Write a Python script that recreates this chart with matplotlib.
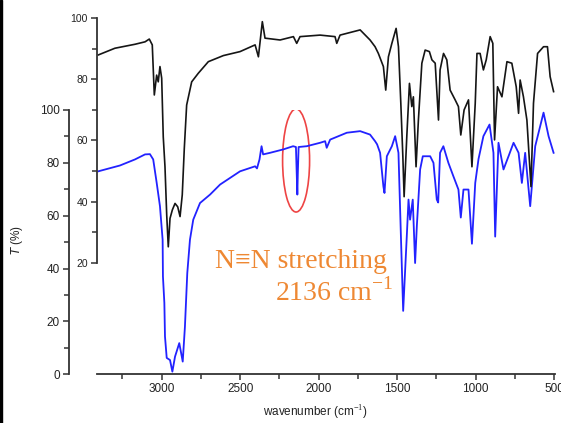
import numpy as np
import matplotlib
matplotlib.use('Agg')
import matplotlib.pyplot as plt
from matplotlib.patches import Ellipse, Rectangle
from matplotlib.ticker import MultipleLocator

matplotlib.rcParams.update({'font.family': 'Liberation Sans', 'font.size': 8,
                            'mathtext.fontset': 'custom',
                            'mathtext.rm': 'Liberation Serif'})

# blue spectrum (main axis): wavenumber (cm-1), T (%)
blue_wn = [3404, 3266, 3170, 3106, 3075, 3054, 3032, 3011, 2994, 2992, 2983, 2979,
           2968, 2947, 2932, 2915, 2888, 2866, 2852, 2837, 2820, 2799, 2756, 2692,
           2628, 2501, 2405, 2393, 2377, 2364, 2354, 2310, 2225, 2163, 2145, 2138,
           2136, 2133, 2128, 2076, 1991, 1959, 1949, 1927, 1821, 1736, 1673, 1641,
           1628, 1609, 1588, 1581, 1566, 1534, 1513, 1492, 1477, 1462, 1439, 1428,
           1418, 1401, 1386, 1375, 1354, 1337, 1290, 1269, 1248, 1239, 1227, 1206,
           1174, 1142, 1110, 1095, 1078, 1046, 1024, 1003, 982, 951, 912, 887, 876,
           855, 823, 791, 759, 727, 706, 685, 653, 621, 568, 536, 504]
blue_t = [76.8, 79.0, 81.3, 83.2, 83.3, 81.3, 72.5, 63.6, 50.9, 37.0, 27.0, 14.3,
          6.2, 5.4, 1.0, 6.7, 11.8, 4.8, 18.0, 38.3, 50.9, 58.5, 64.8, 68.0,
          71.8, 76.8, 78.7, 77.9, 81.3, 86.3, 83.2, 83.8, 85.1, 86.3, 86.0, 72.0,
          68.0, 76.0, 86.0, 86.3, 87.6, 88.2, 85.7, 88.8, 91.4, 92.0, 90.7, 88.2,
          87.0, 83.8, 71.1, 68.6, 82.5, 86.3, 90.1, 83.8, 53.5, 24.0, 52.2, 66.1,
          58.5, 66.1, 42.1, 56.0, 77.5, 82.5, 82.5, 80.0, 66.1, 65.0, 83.8, 86.3,
          80.0, 74.9, 69.9, 59.3, 69.9, 69.9, 49.4, 72.4, 81.5, 90.1, 94.5, 83.8, 52.1,
          87.6, 77.5, 82.5, 87.6, 83.8, 72.4, 83.8, 63.6, 86.3, 99.0, 90.1, 83.8]

# black spectrum (upper axis)
black_wn = [3404, 3298, 3170, 3106, 3079, 3060, 3047, 3032, 3022, 3011, 3000, 2990,
            2979, 2968, 2958, 2947, 2932, 2915, 2898, 2883, 2869, 2856, 2841, 2809,
            2767, 2703, 2607, 2501, 2405, 2384, 2359, 2342, 2246, 2161, 2140, 2119,
            1991, 1896, 1885, 1864, 1736, 1673, 1641, 1620, 1588, 1573, 1556, 1534,
            1507, 1492, 1477, 1464, 1456, 1439, 1422, 1407, 1397, 1380, 1365, 1343,
            1322, 1295, 1279, 1258, 1237, 1227, 1205, 1184, 1163, 1131, 1110, 1095,
            1074, 1046, 1024, 1003, 992, 972, 951, 933, 908, 891, 880, 861, 833,
            801, 770, 742, 727, 717, 696, 674, 648, 632, 606, 568, 543, 526, 504]
black_t = [88.0, 90.2, 91.5, 92.3, 93.2, 91.3, 74.9, 81.4, 79.2, 84.2, 80.4, 61.2,
           51.4, 35.6, 25.2, 34.5, 37.3, 39.4, 38.3, 35.1, 42.2, 57.4, 71.6, 79.2,
           82.0, 85.8, 87.8, 89.1, 91.3, 87.4, 98.9, 93.5, 92.9, 94.0, 91.8, 94.0,
           94.5, 94.0, 91.8, 94.5, 96.2, 92.9, 90.7, 88.5, 84.2, 76.5, 87.4, 91.8,
           96.7, 90.7, 72.2, 54.7, 41.6, 61.2, 78.7, 71.1, 74.3, 51.4, 66.7, 85.3,
           89.6, 89.1, 86.4, 85.3, 66.7, 83.1, 88.5, 86.4, 76.5, 73.3, 71.1, 61.8,
           70.0, 73.3, 51.4, 72.2, 88.5, 88.5, 83.1, 86.4, 94.0, 91.8, 60.2, 77.6, 74.3,
           85.8, 85.3, 77.6, 68.9, 79.8, 74.3, 66.7, 44.9, 72.2, 88.5, 90.7, 90.7, 80.9, 76.0]

W, H = 561, 423
fig = plt.figure(figsize=(W / 100, H / 100), dpi=100)
axis_col = '#333333'

# main axis (blue)
ax = fig.add_axes([97 / W, 1 - 374.3 / H, 458 / W, 264.3 / H])
ax.plot(blue_wn, blue_t, color='#2222ff', linewidth=1.3)
ax.set_xlim(3412, 495)
ax.set_ylim(0, 100)
ax.spines['top'].set_visible(False)
ax.spines['right'].set_visible(False)
ax.spines['left'].set_position(('outward', 28 * 0.72))
for s in ('left', 'bottom'):
    ax.spines[s].set_color(axis_col)
    ax.spines[s].set_linewidth(1.3)
ax.xaxis.set_major_locator(MultipleLocator(500))
ax.xaxis.set_minor_locator(MultipleLocator(250))
ax.yaxis.set_major_locator(MultipleLocator(20))
ax.yaxis.set_minor_locator(MultipleLocator(10))
ax.tick_params(which='both', direction='out', color=axis_col, width=1.1,
               labelcolor='#222222', labelsize=8.5)
ax.tick_params(which='major', length=4, pad=2.5)
ax.tick_params(which='minor', length=3.5)

# upper axis (black)
ax2 = fig.add_axes([97 / W, 1 - 262.7 / H, 458 / W, 244.4 / H])
ax2.patch.set_visible(False)
ax2.plot(black_wn, black_t, color='#151515', linewidth=1.2, clip_on=False)
ax2.set_xlim(3412, 495)
ax2.set_ylim(20, 100)
for s in ('top', 'right', 'bottom'):
    ax2.spines[s].set_visible(False)
ax2.spines['left'].set_color(axis_col)
ax2.spines['left'].set_linewidth(1.3)
ax2.set_xticks([])
ax2.yaxis.set_major_locator(MultipleLocator(20))
ax2.yaxis.set_minor_locator(MultipleLocator(10))
ax2.tick_params(which='both', direction='out', color=axis_col, width=1.1,
                labelcolor='#222222', labelsize=7.5)
ax2.tick_params(which='major', length=4, pad=2.5)
ax2.tick_params(which='minor', length=3.5)

# N≡N highlight
ax.add_patch(Ellipse((2144, 80.9), 172, 39, fill=False, edgecolor='#ee4444',
                     linewidth=1.2))
ax.text(2660, 42.5, 'N\u2261N stretching', color='#ee8833', fontsize=20,
        family='Liberation Serif', va='center', ha='left')
ax.text(2280, 31, r'2136 cm$^{\mathregular{-1}}$', color='#ee8833', fontsize=20,
        family='Liberation Serif', va='center', ha='left')

fig.text(315 / W, 1 - 413 / H, 'wavenumber (cm$^{-1}$)', ha='center', va='center',
         fontsize=8.5, color='#222222')
fig.text(17 / W, 1 - 240 / H, '$T$ (%)', rotation=90, ha='center', va='center',
         fontsize=8.5, color='#222222')

fig.patches.append(Rectangle((0, 0), 2 / W, 1, transform=fig.transFigure,
                             color='black'))

fig.savefig('out.png', dpi=100)
